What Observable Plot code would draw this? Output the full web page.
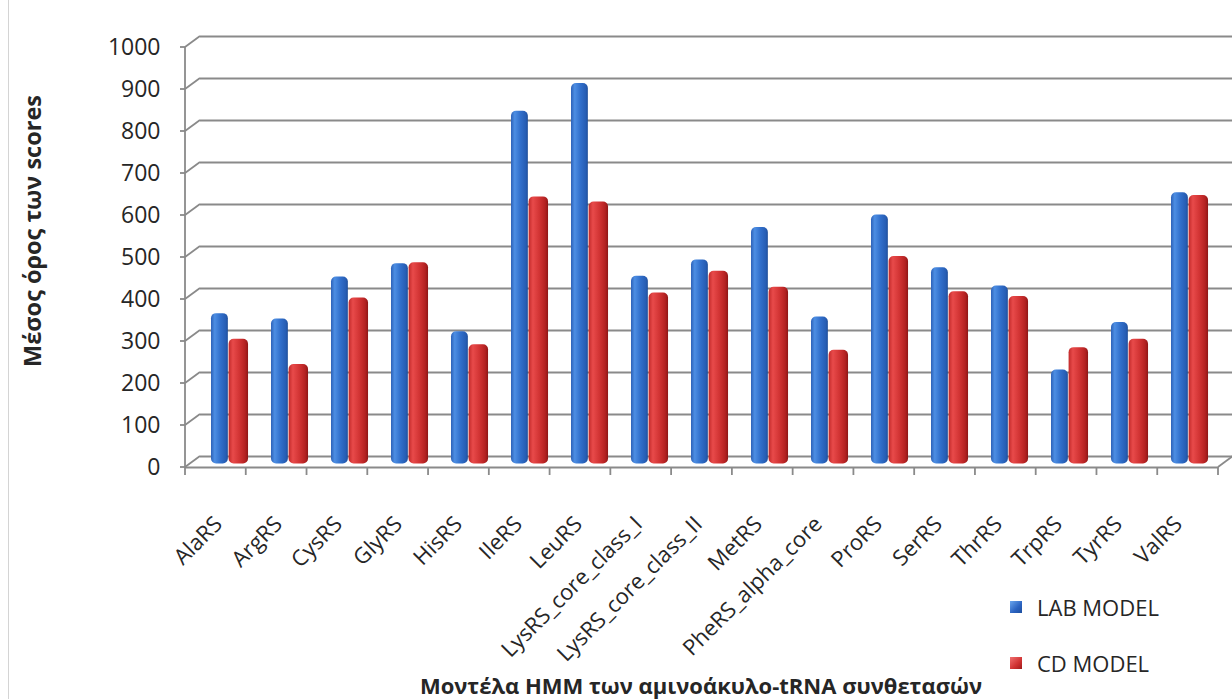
<!DOCTYPE html>
<html>
<head>
<meta charset="utf-8">
<script src="https://cdn.jsdelivr.net/npm/d3@7"></script>
<script src="https://cdn.jsdelivr.net/npm/@observablehq/plot@0.6"></script>
<style>
  html, body { margin: 0; padding: 0; background: #fff; }
  #wrap { position: relative; width: 1232px; height: 699px; overflow: hidden; background: #fff; font-family: "Open Sans", "Noto Sans", sans-serif; color: #262626; }
  #border { position: absolute; left: 8px; top: 0; width: 1px; height: 699px; background: #d4d4d4; }
  #chart { position: absolute; left: 0; top: 0; }
  #chart svg text { fill: #262626; font-family: "Open Sans", "Noto Sans", sans-serif; font-size: 22px; }
  .ytitle { position: absolute; left: 33px; top: 231px; transform: translate(-50%, -50%) rotate(-90deg); white-space: nowrap; font-weight: bold; font-size: 23.5px; line-height: 1; }
  .xtitle { position: absolute; left: 701px; top: 685px; transform: translate(-50%, -50%); white-space: nowrap; font-weight: bold; font-size: 22px; line-height: 1; }
  .leg { position: absolute; left: 1010px; display: flex; align-items: center; font-size: 22px; white-space: nowrap; }
  .leg .sw { width: 12px; height: 12px; margin-right: 15px; }
</style>
</head>
<body>
<div id="wrap">
  <div id="border"></div>
  <div id="chart"></div>
  <div class="ytitle">Μέσος όρος των scores</div>
  <div class="xtitle">Μοντέλα HMM των αμινοάκυλο-tRNA συνθετασών</div>
  <div class="leg" style="top:592px"><div class="sw" style="background:linear-gradient(135deg,#6aa6ee,#2a62c0 60%,#1d4f9e)"></div>LAB MODEL</div>
  <div class="leg" style="top:648px"><div class="sw" style="background:linear-gradient(135deg,#f07070,#d03232 60%,#9e1c1c)"></div>CD MODEL</div>
</div>
<script>
const categories = ["AlaRS","ArgRS","CysRS","GlyRS","HisRS","IleRS","LeuRS","LysRS_core_class_I","LysRS_core_class_II","MetRS","PheRS_alpha_core","ProRS","SerRS","ThrRS","TrpRS","TyrRS","ValRS"];
const labModel = [358,345,445,477,315,840,906,447,486,563,350,593,467,424,224,337,646];
const cdModel  = [297,237,395,479,284,636,624,407,459,421,271,494,410,399,277,297,639];
const yTicks = [0,100,200,300,400,500,600,700,800,900,1000];
const seriesNames = ["LAB MODEL","CD MODEL"];

const labData = categories.map((c, i) => ({category: c, value: labModel[i], series: seriesNames[0]}));
const cdData = categories.map((c, i) => ({category: c, value: cdModel[i], series: seriesNames[1]}));

const W = 1232, H = 699;
const mL = 185, mR = 14, mT = 47, mB = 232;
const bw = (W - mL - mR) / categories.length;
const DX = 15, DY = -11;
const gridColor = "#8a8a8a";

function frame3d(index, scales, values, dims) {
  const y = scales.y;
  const L = dims.marginLeft, R = dims.width - dims.marginRight;
  const g = d3.create("svg:g").attr("stroke", gridColor).attr("stroke-width", 1.8).attr("fill", "none");
  g.append("line").attr("x1", L).attr("x2", L).attr("y1", y(0)).attr("y2", y(1000));
  for (const t of yTicks) {
    g.append("line").attr("x1", L).attr("y1", y(t)).attr("x2", L + DX).attr("y2", y(t) + DY);
    g.append("line").attr("x1", L - 5).attr("y1", y(t)).attr("x2", L).attr("y2", y(t));
  }
  g.append("line").attr("x1", R).attr("y1", y(0)).attr("x2", R + DX).attr("y2", y(0) + DY);
  const n = categories.length;
  for (let i = 0; i <= n; i++) {
    const xx = L + i * (R - L) / n;
    g.append("line").attr("x1", xx).attr("x2", xx).attr("y1", y(0)).attr("y2", y(0) + 8);
  }
  return g.node();
}

const plot = Plot.plot({
  width: W,
  height: H,
  marginLeft: mL,
  marginRight: mR,
  marginTop: mT,
  marginBottom: mB,
  style: {background: "transparent", color: "#262626", fontSize: "22px", fontFamily: "Open Sans"},
  x: {type: "band", domain: categories, padding: 0, label: null, axis: null},
  y: {domain: [0, 1000], ticks: yTicks, label: null, tickSize: 0, tickPadding: 25, tickFormat: d => String(d)},
  marks: [
    Plot.ruleY(yTicks, {dx: DX, dy: DY, stroke: gridColor, strokeWidth: 2.2}),
    Plot.ruleY([0], {stroke: gridColor, strokeWidth: 1.8}),
    frame3d,
    Plot.barY(labData, {x: "category", y: "value", fill: "url(#gradBlue)", insetLeft: 19, insetRight: bw - 36.6, dy: -3.5, rx: 5}),
    Plot.barY(cdData, {x: "category", y: "value", fill: "url(#gradRed)", insetLeft: 36.6, insetRight: bw - 56.8, dy: -3.5, rx: 5}),
    Plot.text(categories, {x: d => d, frameAnchor: "bottom", text: d => d, rotate: -45, textAnchor: "end", lineAnchor: "middle", dx: -4, dy: 53, fontSize: 22, fill: "#262626"})
  ]
});

const defs = d3.select(plot).insert("defs", ":first-child");
function grad(id, stops) {
  const lg = defs.append("linearGradient").attr("id", id).attr("x1", "0").attr("x2", "1").attr("y1", "0").attr("y2", "0");
  for (const [o, c] of stops) lg.append("stop").attr("offset", o).attr("stop-color", c);
}
grad("gradBlue", [[0, "#2d62b8"], [0.22, "#4d8ee3"], [0.55, "#3270cc"], [0.9, "#265cb2"], [1, "#1b4a94"]]);
grad("gradRed", [[0, "#c22a2a"], [0.22, "#e84a4a"], [0.55, "#d23434"], [0.85, "#b42222"], [1, "#8e1717"]]);

d3.select(plot).selectAll("g[aria-label='y-axis'] text, g[aria-label^='y-axis'] text").style("font-size", "23px");

document.getElementById("chart").appendChild(plot);
</script>
</body>
</html>
